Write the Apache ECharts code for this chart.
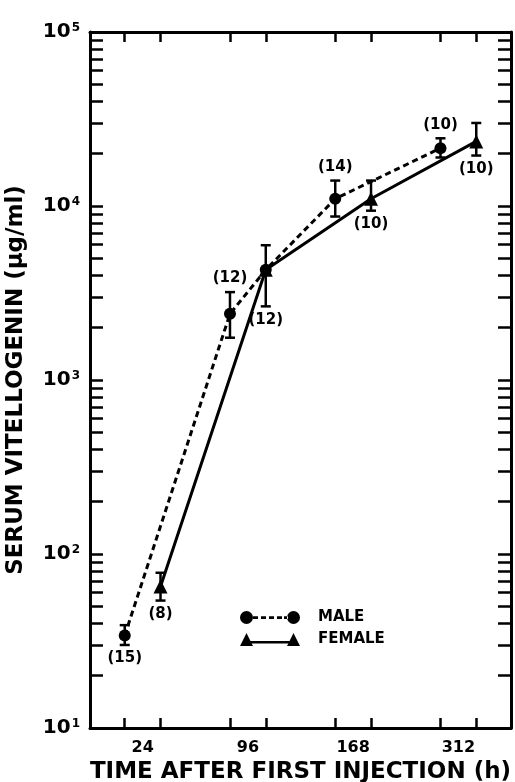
<!DOCTYPE html>
<html><head><meta charset="utf-8">
<script src="https://cdn.jsdelivr.net/npm/echarts@6/dist/echarts.min.js"></script>
<style>html,body{margin:0;padding:0;background:#fff}#c{width:515px;height:782px}</style>
</head><body><div id="c"></div>
<script>
// ---- data ----
const times = ['24', '96', '168', '312'];
// tick slot: each time label has two ticks; even slot = left (male) tick, odd slot = right (female) tick
const maleSlot = [0, 2, 3, 4, 6];
const maleVal  = [34, 2400, 4300, 11000, 21500];
const maleLo   = [30, 1750, null, 8700, 19000];
const maleHi   = [39, 3200, null, 14000, 24500];
const maleN    = ['(15)', '(12)', null, '(14)', '(10)'];
const maleNPos = ['below', 'above', null, 'above', 'above'];

const femaleSlot = [1, 3, 5, 7];
const femaleVal  = [65, 4300, 11000, 23500];
const femaleLo   = [54, 2650, 9400, 19500];
const femaleHi   = [78, 5950, 14000, 30000];
const femaleN    = ['(8)', '(12)', '(10)', '(10)'];
const femaleNPos = ['below', 'below', 'below', 'below'];

const yMin = 10, yMax = 100000;

// ---- helpers ----
const OFF = 0.17;
const slotX = s => Math.floor(s / 2) + (s % 2 ? OFF : -OFF);
const allSlots = [0,1,2,3,4,5,6,7].map(slotX);
const yTicks = [];
for (let d = 1; d <= 4; d++) for (let k = 1; k <= 9; k++) yTicks.push(k * Math.pow(10, d));
yTicks.push(yMax);

const FONT = 'DejaVu Sans';

function errData(slots, vals, lo, hi) {
  const out = [];
  slots.forEach((s, i) => out.push([slotX(s), vals[i], lo[i] == null ? vals[i] : lo[i], hi[i] == null ? vals[i] : hi[i]]));
  return out;
}

function errSeries(name, slots, vals, lo, hi, labels, pos) {
  return {
    type: 'custom', name: name + '_err', xAxisIndex: 0, yAxisIndex: 0, z: 3,
    data: errData(slots, vals, lo, hi),
    renderItem: function (params, api) {
      const i = params.dataIndex;
      const x = api.value(0);
      const children = [];
      const style = { stroke: '#000', lineWidth: 2.5 };
      let pLo = api.coord([x, api.value(2)]);
      let pHi = api.coord([x, api.value(3)]);
      if (lo[i] != null) {
        children.push({ type: 'line', shape: { x1: pLo[0], y1: pLo[1], x2: pHi[0], y2: pHi[1] }, style: style });
        children.push({ type: 'line', shape: { x1: pLo[0] - 5, y1: pLo[1], x2: pLo[0] + 5, y2: pLo[1] }, style: style });
        children.push({ type: 'line', shape: { x1: pHi[0] - 5, y1: pHi[1], x2: pHi[0] + 5, y2: pHi[1] }, style: style });
      }
      if (labels[i]) {
        const above = pos[i] === 'above';
        const p = above ? pHi : pLo;
        children.push({ type: 'text', style: {
          x: p[0], y: above ? p[1] - 6 : p[1] + 6, text: labels[i],
          align: 'center', verticalAlign: above ? 'bottom' : 'top',
          font: 'bold 15px "' + FONT + '"', fill: '#000' } });
      }
      return { type: 'group', children: children };
    }
  };
}

const malePath = 'path://M0 6.5A6.5 6.5 0 1 0 13 6.5A6.5 6.5 0 1 0 0 6.5Z M47 6.5A6.5 6.5 0 1 0 60 6.5A6.5 6.5 0 1 0 47 6.5Z M13 5.3h5v2.6h-5Z M21 5.3h5v2.6h-5Z M29 5.3h5v2.6h-5Z M37 5.3h5v2.6h-5Z M44 5.3h4v2.6h-4Z';
const femalePath = 'path://M0 13L6.5 0L13 13Z M47 13L53.5 0L60 13Z M10 8h40v2.6h-40Z';

const chart = echarts.init(document.getElementById('c'), null, { renderer: 'canvas' });
const axisLine = { show: true, onZero: false, lineStyle: { color: '#000', width: 3 } };
chart.setOption({
  animation: false,
  backgroundColor: '#fff',
  grid: { left: 90, right: 4, top: 32, bottom: 54, containLabel: false, outerBoundsMode: 'none' },
  legend: {
    orient: 'vertical', left: 235, top: 605, itemWidth: 60, itemHeight: 13, itemGap: 7,
    textStyle: { fontFamily: FONT, fontWeight: 'bold', fontSize: 15, color: '#000', padding: [0, 0, 0, 13] },
    data: [{ name: 'MALE', icon: malePath }, { name: 'FEMALE', icon: femalePath }],
    itemStyle: { color: '#000', borderWidth: 0 }, lineStyle: { width: 0 }
  },
  xAxis: [{
    type: 'value', min: -0.5, max: 3.5, position: 'bottom',
    name: 'TIME AFTER FIRST INJECTION (h)', nameLocation: 'middle', nameGap: 29,
    nameTextStyle: { fontFamily: FONT, fontWeight: 'bold', fontSize: 23, color: '#000' },
    axisLine: axisLine, splitLine: { show: false },
    axisTick: { show: true, inside: true, length: 10, customValues: allSlots, lineStyle: { color: '#000', width: 2.5 } },
    axisLabel: { show: true, customValues: [0, 1, 2, 3], margin: 12, formatter: v => times[Math.round(v)],
      fontFamily: FONT, fontWeight: 'bold', fontSize: 16, color: '#000' }
  }, {
    type: 'value', min: -0.5, max: 3.5, position: 'top',
    axisLine: axisLine, splitLine: { show: false }, axisLabel: { show: false },
    axisTick: { show: true, inside: true, length: 10, customValues: allSlots, lineStyle: { color: '#000', width: 2.5 } }
  }],
  yAxis: [{
    type: 'log', logBase: 10, min: yMin, max: yMax, position: 'left',
    name: 'SERUM VITELLOGENIN (μg/ml)', nameLocation: 'middle', nameGap: 62, nameRotate: 90,
    nameTextStyle: { fontFamily: FONT, fontWeight: 'bold', fontSize: 23, color: '#000' },
    axisLine: axisLine, splitLine: { show: false }, minorTick: { show: false },
    axisTick: { show: true, inside: true, length: 13, customValues: yTicks, lineStyle: { color: '#000', width: 2.5 } },
    axisLabel: { show: true, margin: 10,
      formatter: v => '{b|10}{s|' + Math.round(Math.log10(v)) + '}',
      rich: { b: { fontFamily: FONT, fontWeight: 'bold', fontSize: 20, color: '#000' },
              s: { fontFamily: FONT, fontWeight: 'bold', fontSize: 12, color: '#000', verticalAlign: 'top', padding: [0, 0, 0, 1] } } }
  }, {
    type: 'log', logBase: 10, min: yMin, max: yMax, position: 'right',
    axisLine: axisLine, splitLine: { show: false }, axisLabel: { show: false },
    axisTick: { show: true, inside: true, length: 13, customValues: yTicks, lineStyle: { color: '#000', width: 2.5 } }
  }],
  series: [
    errSeries('MALE', maleSlot, maleVal, maleLo, maleHi, maleN, maleNPos),
    errSeries('FEMALE', femaleSlot, femaleVal, femaleLo, femaleHi, femaleN, femaleNPos),
    {
      name: 'MALE', type: 'line', xAxisIndex: 0, yAxisIndex: 0, z: 4,
      data: maleSlot.map((s, i) => [slotX(s), maleVal[i]]),
      symbol: 'circle', symbolSize: 12,
      itemStyle: { color: '#000' },
      lineStyle: { color: '#000', width: 3, type: [6, 4] }
    },
    {
      name: 'FEMALE', type: 'line', xAxisIndex: 0, yAxisIndex: 0, z: 4,
      data: femaleSlot.map((s, i) => [slotX(s), femaleVal[i]]),
      symbol: 'triangle', symbolSize: 14,
      itemStyle: { color: '#000' },
      lineStyle: { color: '#000', width: 3, type: 'solid' }
    }
  ]
});
</script></body></html>
